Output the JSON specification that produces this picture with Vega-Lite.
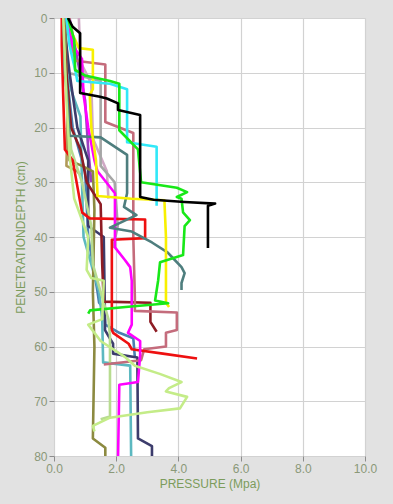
{
  "$schema": "https://vega.github.io/schema/vega-lite/v6.json",
  "width": 311,
  "height": 438,
  "autosize": {"type": "none"},
  "padding": {"left": 54, "top": 18, "right": 28, "bottom": 48},
  "background": "#e2e2e2",
  "config": {
    "view": {"fill": "#ffffff", "stroke": null},
    "font": "Liberation Sans",
    "axis": {
      "labelFont": "Liberation Sans",
      "titleFont": "Liberation Sans",
      "labelFontSize": 12,
      "titleFontSize": 12,
      "titleFontWeight": "normal",
      "labelColor": "#8a9878",
      "titleColor": "#7c9c5c",
      "tickColor": "#8c8c8c",
      "tickSize": 5,
      "domain": false,
      "labelFlush": false,
      "labelOverlap": false,
      "gridColor": "#d2d2d2",
      "gridWidth": 1.2
    }
  },
  "data": {
    "values": [
      {"s": "khaki", "i": 0, "p": 0.35, "d": 0}, {"s": "khaki", "i": 1, "p": 0.4, "d": 8}, {"s": "khaki", "i": 2, "p": 0.45, "d": 15}, {"s": "khaki", "i": 3, "p": 0.4, "d": 27}, {"s": "khaki", "i": 4, "p": 0.75, "d": 28}, {"s": "khaki", "i": 5, "p": 0.9, "d": 29},
      {"s": "pinkgray", "i": 0, "p": 0.8, "d": 0}, {"s": "pinkgray", "i": 1, "p": 0.85, "d": 8}, {"s": "pinkgray", "i": 2, "p": 1.2, "d": 12}, {"s": "pinkgray", "i": 3, "p": 1.25, "d": 22}, {"s": "pinkgray", "i": 4, "p": 1.7, "d": 28}, {"s": "pinkgray", "i": 5, "p": 1.75, "d": 33},
      {"s": "gray", "i": 0, "p": 0.35, "d": 0}, {"s": "gray", "i": 1, "p": 0.45, "d": 10}, {"s": "gray", "i": 2, "p": 1.5, "d": 11.5}, {"s": "gray", "i": 3, "p": 1.5, "d": 27}, {"s": "gray", "i": 4, "p": 1.95, "d": 30}, {"s": "gray", "i": 5, "p": 2.05, "d": 38}, {"s": "gray", "i": 6, "p": 1.9, "d": 42},
      {"s": "purple", "i": 0, "p": 0.5, "d": 0}, {"s": "purple", "i": 1, "p": 0.7, "d": 6}, {"s": "purple", "i": 2, "p": 1.0, "d": 15}, {"s": "purple", "i": 3, "p": 1.1, "d": 24}, {"s": "purple", "i": 4, "p": 1.2, "d": 30},
      {"s": "steelblue", "i": 0, "p": 0.3, "d": 0}, {"s": "steelblue", "i": 1, "p": 0.4, "d": 10}, {"s": "steelblue", "i": 2, "p": 0.6, "d": 20}, {"s": "steelblue", "i": 3, "p": 1.0, "d": 28}, {"s": "steelblue", "i": 4, "p": 1.1, "d": 40}, {"s": "steelblue", "i": 5, "p": 1.4, "d": 50}, {"s": "steelblue", "i": 6, "p": 1.45, "d": 52}, {"s": "steelblue", "i": 7, "p": 1.6, "d": 53}, {"s": "steelblue", "i": 8, "p": 1.65, "d": 56}, {"s": "steelblue", "i": 9, "p": 2.1, "d": 57.5}, {"s": "steelblue", "i": 10, "p": 2.55, "d": 58.5}, {"s": "steelblue", "i": 11, "p": 2.6, "d": 62},
      {"s": "teal", "i": 0, "p": 0.35, "d": 0}, {"s": "teal", "i": 1, "p": 0.4, "d": 10}, {"s": "teal", "i": 2, "p": 0.6, "d": 14}, {"s": "teal", "i": 3, "p": 0.85, "d": 18}, {"s": "teal", "i": 4, "p": 0.9, "d": 30}, {"s": "teal", "i": 5, "p": 0.95, "d": 40}, {"s": "teal", "i": 6, "p": 1.3, "d": 47}, {"s": "teal", "i": 7, "p": 1.45, "d": 50}, {"s": "teal", "i": 8, "p": 1.55, "d": 55}, {"s": "teal", "i": 9, "p": 1.58, "d": 62.9}, {"s": "teal", "i": 10, "p": 2.45, "d": 63.5}, {"s": "teal", "i": 11, "p": 2.48, "d": 80},
      {"s": "navy", "i": 0, "p": 0.3, "d": 0}, {"s": "navy", "i": 1, "p": 0.5, "d": 10}, {"s": "navy", "i": 2, "p": 0.75, "d": 20}, {"s": "navy", "i": 3, "p": 1.1, "d": 26}, {"s": "navy", "i": 4, "p": 1.1, "d": 38}, {"s": "navy", "i": 5, "p": 1.6, "d": 40}, {"s": "navy", "i": 6, "p": 1.64, "d": 55}, {"s": "navy", "i": 7, "p": 1.64, "d": 57}, {"s": "navy", "i": 8, "p": 1.9, "d": 59.5}, {"s": "navy", "i": 9, "p": 1.9, "d": 61.3}, {"s": "navy", "i": 10, "p": 2.68, "d": 62}, {"s": "navy", "i": 11, "p": 2.7, "d": 76.8}, {"s": "navy", "i": 12, "p": 3.15, "d": 78.2}, {"s": "navy", "i": 13, "p": 3.15, "d": 80},
      {"s": "olive", "i": 0, "p": 0.35, "d": 0}, {"s": "olive", "i": 1, "p": 0.4, "d": 10}, {"s": "olive", "i": 2, "p": 0.45, "d": 20}, {"s": "olive", "i": 3, "p": 0.5, "d": 26}, {"s": "olive", "i": 4, "p": 0.9, "d": 27}, {"s": "olive", "i": 5, "p": 1.25, "d": 28}, {"s": "olive", "i": 6, "p": 1.3, "d": 35}, {"s": "olive", "i": 7, "p": 1.25, "d": 50}, {"s": "olive", "i": 8, "p": 1.3, "d": 60}, {"s": "olive", "i": 9, "p": 1.25, "d": 76.8}, {"s": "olive", "i": 10, "p": 1.65, "d": 78.5}, {"s": "olive", "i": 11, "p": 1.65, "d": 80},
      {"s": "palegreen", "i": 0, "p": 0.3, "d": 0}, {"s": "palegreen", "i": 1, "p": 0.4, "d": 12}, {"s": "palegreen", "i": 2, "p": 0.55, "d": 24}, {"s": "palegreen", "i": 3, "p": 0.9, "d": 30}, {"s": "palegreen", "i": 4, "p": 1.2, "d": 38}, {"s": "palegreen", "i": 5, "p": 1.25, "d": 45}, {"s": "palegreen", "i": 6, "p": 1.5, "d": 50}, {"s": "palegreen", "i": 7, "p": 1.75, "d": 55}, {"s": "palegreen", "i": 8, "p": 1.8, "d": 58}, {"s": "palegreen", "i": 9, "p": 1.8, "d": 72.8}, {"s": "palegreen", "i": 10, "p": 1.5, "d": 73.3},
      {"s": "maroon", "i": 0, "p": 0.3, "d": 0}, {"s": "maroon", "i": 1, "p": 0.4, "d": 10}, {"s": "maroon", "i": 2, "p": 0.55, "d": 20}, {"s": "maroon", "i": 3, "p": 0.85, "d": 24}, {"s": "maroon", "i": 4, "p": 1.05, "d": 30}, {"s": "maroon", "i": 5, "p": 1.5, "d": 34}, {"s": "maroon", "i": 6, "p": 1.55, "d": 45}, {"s": "maroon", "i": 7, "p": 1.6, "d": 51.8}, {"s": "maroon", "i": 8, "p": 3.1, "d": 52}, {"s": "maroon", "i": 9, "p": 3.1, "d": 55.5}, {"s": "maroon", "i": 10, "p": 3.3, "d": 57.3},
      {"s": "rose", "i": 0, "p": 0.5, "d": 0}, {"s": "rose", "i": 1, "p": 0.55, "d": 5}, {"s": "rose", "i": 2, "p": 0.7, "d": 7.8}, {"s": "rose", "i": 3, "p": 1.65, "d": 8.5}, {"s": "rose", "i": 4, "p": 1.65, "d": 19}, {"s": "rose", "i": 5, "p": 2.55, "d": 21}, {"s": "rose", "i": 6, "p": 2.55, "d": 40}, {"s": "rose", "i": 7, "p": 2.6, "d": 51}, {"s": "rose", "i": 8, "p": 2.6, "d": 53.5}, {"s": "rose", "i": 9, "p": 3.95, "d": 53.8}, {"s": "rose", "i": 10, "p": 3.95, "d": 57}, {"s": "rose", "i": 11, "p": 3.6, "d": 57.5}, {"s": "rose", "i": 12, "p": 3.6, "d": 60}, {"s": "rose", "i": 13, "p": 2.9, "d": 60.5}, {"s": "rose", "i": 14, "p": 2.8, "d": 62.5}, {"s": "rose", "i": 15, "p": 1.6, "d": 63.3},
      {"s": "red", "i": 0, "p": 0.25, "d": 0}, {"s": "red", "i": 1, "p": 0.25, "d": 5}, {"s": "red", "i": 2, "p": 0.3, "d": 15}, {"s": "red", "i": 3, "p": 0.35, "d": 24}, {"s": "red", "i": 4, "p": 0.6, "d": 26}, {"s": "red", "i": 5, "p": 0.9, "d": 35.5}, {"s": "red", "i": 6, "p": 1.15, "d": 36.6}, {"s": "red", "i": 7, "p": 2.93, "d": 36.8}, {"s": "red", "i": 8, "p": 2.93, "d": 40.2}, {"s": "red", "i": 9, "p": 1.86, "d": 40.5}, {"s": "red", "i": 10, "p": 1.86, "d": 57}, {"s": "red", "i": 11, "p": 1.9, "d": 57.5}, {"s": "red", "i": 12, "p": 2.4, "d": 59.5}, {"s": "red", "i": 13, "p": 2.5, "d": 60.5}, {"s": "red", "i": 14, "p": 3.5, "d": 61.3}, {"s": "red", "i": 15, "p": 4.6, "d": 62.2},
      {"s": "magenta", "i": 0, "p": 0.4, "d": 0}, {"s": "magenta", "i": 1, "p": 0.6, "d": 5}, {"s": "magenta", "i": 2, "p": 0.9, "d": 7.5}, {"s": "magenta", "i": 3, "p": 0.95, "d": 14}, {"s": "magenta", "i": 4, "p": 1.1, "d": 20}, {"s": "magenta", "i": 5, "p": 1.3, "d": 26}, {"s": "magenta", "i": 6, "p": 1.4, "d": 28}, {"s": "magenta", "i": 7, "p": 1.96, "d": 32}, {"s": "magenta", "i": 8, "p": 1.96, "d": 41.9}, {"s": "magenta", "i": 9, "p": 2.28, "d": 44.2}, {"s": "magenta", "i": 10, "p": 2.45, "d": 45.5}, {"s": "magenta", "i": 11, "p": 2.5, "d": 48}, {"s": "magenta", "i": 12, "p": 2.5, "d": 56}, {"s": "magenta", "i": 13, "p": 2.38, "d": 57.5}, {"s": "magenta", "i": 14, "p": 2.77, "d": 59}, {"s": "magenta", "i": 15, "p": 2.77, "d": 61.6}, {"s": "magenta", "i": 16, "p": 2.7, "d": 66.5}, {"s": "magenta", "i": 17, "p": 2.1, "d": 67}, {"s": "magenta", "i": 18, "p": 2.06, "d": 80},
      {"s": "slate", "i": 0, "p": 0.3, "d": 0}, {"s": "slate", "i": 1, "p": 0.35, "d": 10}, {"s": "slate", "i": 2, "p": 0.45, "d": 16}, {"s": "slate", "i": 3, "p": 0.5, "d": 21.5}, {"s": "slate", "i": 4, "p": 1.5, "d": 21.8}, {"s": "slate", "i": 5, "p": 2.35, "d": 25}, {"s": "slate", "i": 6, "p": 2.35, "d": 32}, {"s": "slate", "i": 7, "p": 2.25, "d": 34.5}, {"s": "slate", "i": 8, "p": 2.65, "d": 36}, {"s": "slate", "i": 9, "p": 1.8, "d": 38.3}, {"s": "slate", "i": 10, "p": 2.5, "d": 39}, {"s": "slate", "i": 11, "p": 3.15, "d": 41}, {"s": "slate", "i": 12, "p": 3.65, "d": 42.8}, {"s": "slate", "i": 13, "p": 3.8, "d": 43.7}, {"s": "slate", "i": 14, "p": 4.1, "d": 45.5}, {"s": "slate", "i": 15, "p": 4.2, "d": 46.6}, {"s": "slate", "i": 16, "p": 4.1, "d": 48.4}, {"s": "slate", "i": 17, "p": 4.1, "d": 49.7},
      {"s": "yellow", "i": 0, "p": 0.45, "d": 0}, {"s": "yellow", "i": 1, "p": 0.6, "d": 3}, {"s": "yellow", "i": 2, "p": 0.8, "d": 5.5}, {"s": "yellow", "i": 3, "p": 1.25, "d": 5.8}, {"s": "yellow", "i": 4, "p": 1.25, "d": 13}, {"s": "yellow", "i": 5, "p": 1.15, "d": 14}, {"s": "yellow", "i": 6, "p": 1.2, "d": 20}, {"s": "yellow", "i": 7, "p": 1.35, "d": 26}, {"s": "yellow", "i": 8, "p": 1.4, "d": 32.5}, {"s": "yellow", "i": 9, "p": 2.5, "d": 33}, {"s": "yellow", "i": 10, "p": 3.55, "d": 33.3}, {"s": "yellow", "i": 11, "p": 3.6, "d": 40}, {"s": "yellow", "i": 12, "p": 3.6, "d": 52}, {"s": "yellow", "i": 13, "p": 3.7, "d": 52.8},
      {"s": "cyan", "i": 0, "p": 0.4, "d": 0}, {"s": "cyan", "i": 1, "p": 0.5, "d": 5}, {"s": "cyan", "i": 2, "p": 0.7, "d": 10}, {"s": "cyan", "i": 3, "p": 0.75, "d": 11.5}, {"s": "cyan", "i": 4, "p": 1.8, "d": 12}, {"s": "cyan", "i": 5, "p": 2.35, "d": 13}, {"s": "cyan", "i": 6, "p": 2.35, "d": 22.7}, {"s": "cyan", "i": 7, "p": 3.3, "d": 23.5}, {"s": "cyan", "i": 8, "p": 3.3, "d": 34.3},
      {"s": "green", "i": 0, "p": 0.45, "d": 0}, {"s": "green", "i": 1, "p": 0.65, "d": 4}, {"s": "green", "i": 2, "p": 0.68, "d": 9.5}, {"s": "green", "i": 3, "p": 1.0, "d": 10.5}, {"s": "green", "i": 4, "p": 1.8, "d": 11.5}, {"s": "green", "i": 5, "p": 2.1, "d": 12}, {"s": "green", "i": 6, "p": 2.1, "d": 20.5}, {"s": "green", "i": 7, "p": 2.7, "d": 24}, {"s": "green", "i": 8, "p": 2.8, "d": 30}, {"s": "green", "i": 9, "p": 3.95, "d": 31}, {"s": "green", "i": 10, "p": 4.28, "d": 31.8}, {"s": "green", "i": 11, "p": 3.95, "d": 32.7}, {"s": "green", "i": 12, "p": 4.1, "d": 33}, {"s": "green", "i": 13, "p": 4.15, "d": 35.5}, {"s": "green", "i": 14, "p": 4.37, "d": 36.9}, {"s": "green", "i": 15, "p": 4.2, "d": 38}, {"s": "green", "i": 16, "p": 4.15, "d": 43.3}, {"s": "green", "i": 17, "p": 3.41, "d": 44.6}, {"s": "green", "i": 18, "p": 3.35, "d": 47.9}, {"s": "green", "i": 19, "p": 3.25, "d": 51.6}, {"s": "green", "i": 20, "p": 3.67, "d": 52.1}, {"s": "green", "i": 21, "p": 2.3, "d": 52.8}, {"s": "green", "i": 22, "p": 1.16, "d": 53.4}, {"s": "green", "i": 23, "p": 1.1, "d": 54},
      {"s": "lightgreen", "i": 0, "p": 0.3, "d": 0}, {"s": "lightgreen", "i": 1, "p": 0.4, "d": 15}, {"s": "lightgreen", "i": 2, "p": 0.5, "d": 25}, {"s": "lightgreen", "i": 3, "p": 0.65, "d": 33}, {"s": "lightgreen", "i": 4, "p": 1.1, "d": 40}, {"s": "lightgreen", "i": 5, "p": 1.05, "d": 46}, {"s": "lightgreen", "i": 6, "p": 1.2, "d": 47.5}, {"s": "lightgreen", "i": 7, "p": 1.6, "d": 48}, {"s": "lightgreen", "i": 8, "p": 1.55, "d": 55}, {"s": "lightgreen", "i": 9, "p": 1.1, "d": 56}, {"s": "lightgreen", "i": 10, "p": 1.5, "d": 59}, {"s": "lightgreen", "i": 11, "p": 2.3, "d": 62}, {"s": "lightgreen", "i": 12, "p": 2.6, "d": 63.5}, {"s": "lightgreen", "i": 13, "p": 3.4, "d": 65}, {"s": "lightgreen", "i": 14, "p": 4.1, "d": 66.5}, {"s": "lightgreen", "i": 15, "p": 3.7, "d": 67.6}, {"s": "lightgreen", "i": 16, "p": 3.6, "d": 68.2}, {"s": "lightgreen", "i": 17, "p": 4.28, "d": 69.2}, {"s": "lightgreen", "i": 18, "p": 4.05, "d": 71.3}, {"s": "lightgreen", "i": 19, "p": 3.0, "d": 72}, {"s": "lightgreen", "i": 20, "p": 1.8, "d": 73}, {"s": "lightgreen", "i": 21, "p": 1.25, "d": 74.5}, {"s": "lightgreen", "i": 22, "p": 1.3, "d": 75.5},
      {"s": "black", "i": 0, "p": 0.45, "d": 0}, {"s": "black", "i": 1, "p": 0.6, "d": 1.6}, {"s": "black", "i": 2, "p": 0.84, "d": 2.8}, {"s": "black", "i": 3, "p": 0.84, "d": 13.7}, {"s": "black", "i": 4, "p": 1.48, "d": 14.4}, {"s": "black", "i": 5, "p": 1.7, "d": 14.7}, {"s": "black", "i": 6, "p": 2.06, "d": 15.6}, {"s": "black", "i": 7, "p": 2.06, "d": 16.8}, {"s": "black", "i": 8, "p": 2.77, "d": 17.7}, {"s": "black", "i": 9, "p": 2.77, "d": 32.7}, {"s": "black", "i": 10, "p": 3.2, "d": 33.2}, {"s": "black", "i": 11, "p": 4.2, "d": 33.6}, {"s": "black", "i": 12, "p": 5.18, "d": 33.9}, {"s": "black", "i": 13, "p": 4.95, "d": 34.3}, {"s": "black", "i": 14, "p": 4.95, "d": 42}
    ]
  },
  "mark": {"type": "line", "strokeWidth": 2.6, "strokeJoin": "round", "clip": true},
  "encoding": {
    "x": {
      "field": "p",
      "type": "quantitative",
      "scale": {"domain": [0, 10], "nice": false, "zero": false},
      "axis": {"values": [0, 2, 4, 6, 8, 10], "format": ".1f", "title": "PRESSURE  (Mpa)", "labelPadding": 2, "titlePadding": 4}
    },
    "y": {
      "field": "d",
      "type": "quantitative",
      "scale": {"domain": [0, 80], "nice": false, "zero": false, "reverse": true},
      "axis": {"values": [0, 10, 20, 30, 40, 50, 60, 70, 80], "title": "PENETRATIONDEPTH (cm)", "labelPadding": 2, "titlePadding": 6}
    },
    "order": {"field": "i", "type": "quantitative"},
    "color": {
      "field": "s",
      "type": "nominal",
      "legend": null,
      "sort": ["khaki", "pinkgray", "gray", "purple", "steelblue", "teal", "navy", "olive", "palegreen", "maroon", "rose", "red", "magenta", "slate", "yellow", "cyan", "green", "lightgreen", "black"],
      "scale": {
        "domain": ["khaki", "pinkgray", "gray", "purple", "steelblue", "teal", "navy", "olive", "palegreen", "maroon", "rose", "red", "magenta", "slate", "yellow", "cyan", "green", "lightgreen", "black"],
        "range": ["#b09a58", "#cfa8c4", "#a6a6a6", "#9a40c0", "#4a80b0", "#5cb8c0", "#3c3c6c", "#8c8a40", "#b8dc90", "#8e1c24", "#c46c7c", "#ee1010", "#ff00ff", "#4e7e7e", "#f8f000", "#30e8f8", "#18e818", "#c4ec88", "#000000"]
      }
    }
  }
}
